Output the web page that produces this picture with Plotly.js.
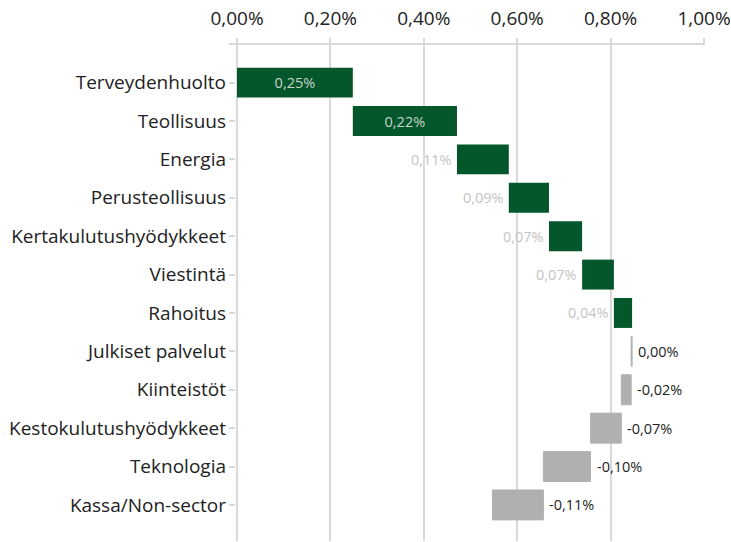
<!DOCTYPE html>
<html>
<head>
<meta charset="utf-8">
<script src="https://cdn.plot.ly/plotly-3.0.1.min.js"></script>
<style>html,body{margin:0;padding:0;background:#fff;}#chart{width:731px;height:542px;}</style>
</head>
<body>
<div id="chart"></div>
<script>
const categories = ["Terveydenhuolto","Teollisuus","Energia","Perusteollisuus","Kertakulutushyödykkeet","Viestintä","Rahoitus","Julkiset palvelut","Kiinteistöt","Kestokulutushyödykkeet","Teknologia","Kassa/Non-sector"];
const contributions = [0.248, 0.223, 0.111, 0.086, 0.071, 0.068, 0.039, -0.002, -0.021, -0.066, -0.101, -0.109];
const insideLabel = [true, true, false, false, false, false, false, false, false, false, false, false];
const xTicks = [0, 0.2, 0.4, 0.6, 0.8, 1.0];

function fmt(v){
  let s = v.toFixed(2);
  if (s === "-0.00") s = "0.00";
  return s.replace(".", ",") + "%";
}

const FONT = "'Open Sans', sans-serif";
const green = "#03572a";
const grey = "#b0b0b0";

const insideText = contributions.map((v,i)=> insideLabel[i] ? fmt(v) : "");

const trace = {
  type: "waterfall",
  orientation: "h",
  y: categories,
  x: contributions,
  measure: contributions.map(()=> "relative"),
  width: 0.78,
  text: insideText,
  textinfo: "text",
  textposition: "inside",
  insidetextanchor: "middle",
  insidetextfont: {family: FONT, size: 14.5, color: "#c9d2c9"},
  increasing: {marker: {color: green, line: {width: 0}}},
  decreasing: {marker: {color: grey, line: {color: grey, width: 1}}},
  connector: {visible: false},
  hoverinfo: "skip"
};

// outside labels placed at each bar's base
const annotations = [];
let cum = 0;
contributions.forEach((v,i)=>{
  const base = cum;
  cum += v;
  if (insideLabel[i]) return;
  const pos = v > 0;
  annotations.push({
    x: base, y: categories[i], xref: "x", yref: "y",
    text: fmt(v), showarrow: false,
    xanchor: pos ? "right" : "left",
    xshift: pos ? -3 : 4,
    font: {family: FONT, size: 14.5, color: pos ? "#c4c4c4" : "#222222"}
  });
});

const layout = {
  width: 731, height: 542,
  margin: {l: 229, r: 26, t: 45, b: 1, pad: 0},
  paper_bgcolor: "#ffffff", plot_bgcolor: "#ffffff",
  separators: ", ",
  showlegend: false,
  font: {family: FONT, size: 19, color: "#222222"},
  xaxis: {
    side: "top", range: [-0.0171, 1.0021],
    tickvals: xTicks, ticktext: xTicks.map(t => t.toFixed(2).replace(".", ",") + "%"),
    ticks: "outside", ticklen: 5, tickwidth: 2, tickcolor: "#d9d9d9",
    ticklabelstandoff: 5,
    showline: true, linecolor: "#d9d9d9", linewidth: 2,
    showgrid: true, gridcolor: "#d9d9d9", gridwidth: 2,
    zeroline: false,
    tickfont: {size: 19, color: "#222222"}
  },
  yaxis: {
    type: "category",
    range: [11.94, -0.98],
    ticks: "inside", ticklen: 6, tickwidth: 2, tickcolor: "#d9d9d9",
    ticklabelstandoff: 2,
    showline: false, showgrid: false, zeroline: false,
    tickfont: {size: 19, color: "#222222"}
  },
  annotations: annotations
};

Plotly.newPlot("chart", [trace], layout, {staticPlot: true, displayModeBar: false});
</script>
</body>
</html>
